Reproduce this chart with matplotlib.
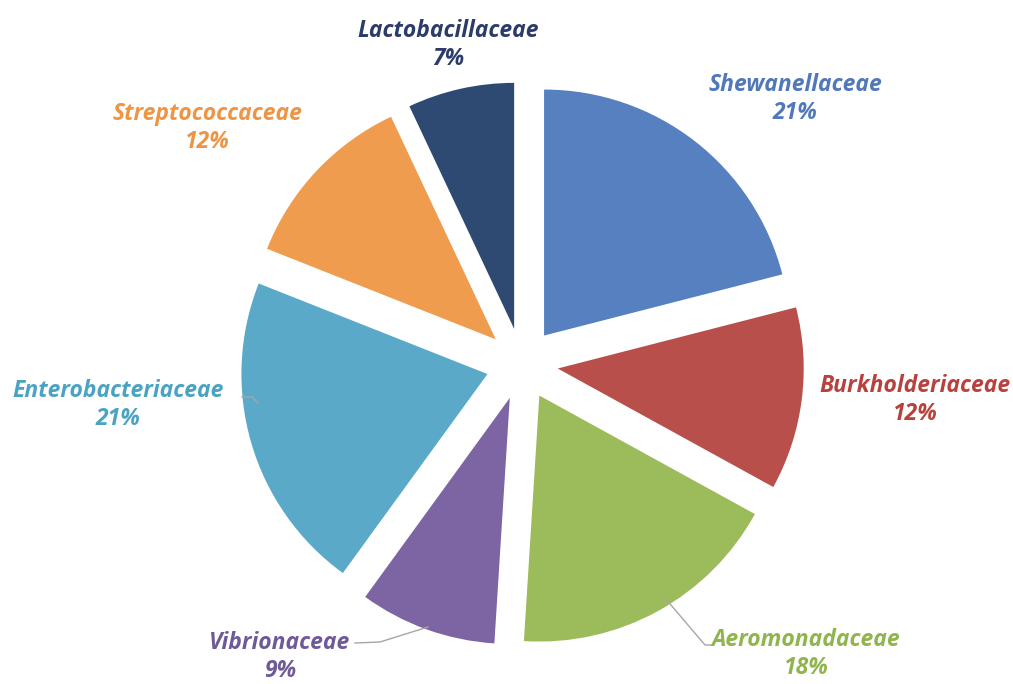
import matplotlib.pyplot as plt
import numpy as np

families = ["Shewanellaceae", "Burkholderiaceae", "Aeromonadaceae", "Vibrionaceae",
            "Enterobacteriaceae", "Streptococcaceae", "Lactobacillaceae"]
shares = [21, 12, 18, 9, 21, 12, 7]
colors = ["#5680bf", "#b94f4b", "#9cbb5a", "#7d65a3", "#5aa9c9", "#f09c4e", "#2e4a72"]
text_colors = ["#5078bb", "#b8413d", "#8fb54c", "#6f5a98", "#4aa3c3", "#ee9545", "#2b3b6a"]

# label anchor (pixel coords, y measured from top) for each family
label_xy = [(795, 99), (915, 400), (806, 654), (280, 657),
            (118, 405), (207, 128), (448, 45)]

W, H = 1013, 684
cx, cy = 522, H - 364
radius = 246
gap = 36  # pie() takes explode as an absolute offset

fig = plt.figure(figsize=(W / 100, H / 100), dpi=100)
ax = fig.add_axes([0, 0, 1, 1])

wedges, _ = ax.pie(shares, colors=colors, startangle=90, counterclock=False,
                   radius=radius, center=(cx, cy), explode=[gap] * len(shares),
                   wedgeprops=dict(linewidth=0), frame=True)
ax.set_xlim(0, W)
ax.set_ylim(0, H)
ax.set_aspect("equal")
ax.axis("off")

for w, name, pct, col, (lx, ly) in zip(wedges, families, shares, text_colors, label_xy):
    ax.text(lx, H - ly, f"{name}\n{pct}%", ha="center", va="center", color=col,
            fontsize=16.5, fontweight="bold", fontstyle="italic", family="Open Sans",
            linespacing=1.25)

# leader lines for the labels sitting away from their slices
leaders = [
    [(428, 627), (380, 642), (355, 643)],
    [(242, 397), (252, 397), (258, 403)],
    [(665, 598), (705, 645), (712, 645)],
]
for pts in leaders:
    xs = [p[0] for p in pts]
    ys = [H - p[1] for p in pts]
    ax.plot(xs, ys, color="#a6a6a6", linewidth=1)

fig.savefig("out.png", dpi=100)
